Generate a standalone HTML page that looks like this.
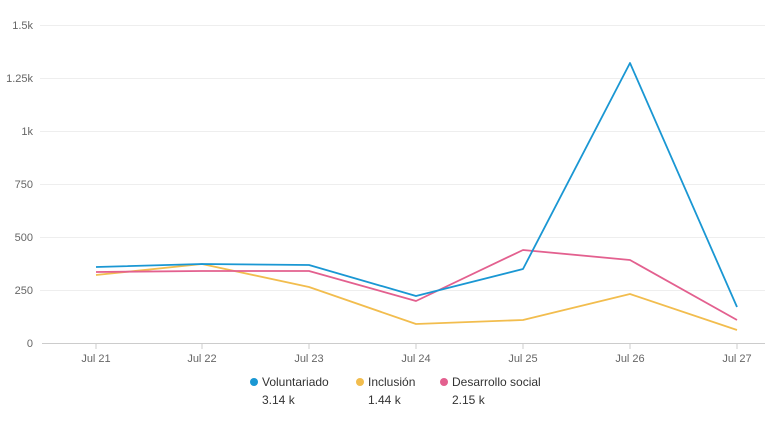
<!DOCTYPE html>
<html><head><meta charset="utf-8"><style>
body{margin:0;background:#fff;font-family:"Liberation Sans",sans-serif}
</style></head><body>
<svg width="771" height="418" xmlns="http://www.w3.org/2000/svg" font-family="Liberation Sans, sans-serif">
<g stroke="#eeeeee" stroke-width="1">
<line x1="40" x2="765" y1="25.5" y2="25.5"/>
<line x1="40" x2="765" y1="78.5" y2="78.5"/>
<line x1="40" x2="765" y1="131.5" y2="131.5"/>
<line x1="40" x2="765" y1="184.5" y2="184.5"/>
<line x1="40" x2="765" y1="237.5" y2="237.5"/>
<line x1="40" x2="765" y1="290.5" y2="290.5"/>
</g>
<line x1="42" x2="765" y1="343.5" y2="343.5" stroke="#ccc"/>
<g stroke="#ccc">
<line x1="96" x2="96" y1="343" y2="349"/><line x1="202" x2="202" y1="343" y2="349"/><line x1="309" x2="309" y1="343" y2="349"/><line x1="416" x2="416" y1="343" y2="349"/><line x1="523" x2="523" y1="343" y2="349"/><line x1="630" x2="630" y1="343" y2="349"/><line x1="737" x2="737" y1="343" y2="349"/>
</g>
<g font-size="11" fill="#666" text-anchor="end">
<text x="33" y="29">1.5k</text><text x="33" y="82">1.25k</text><text x="33" y="135">1k</text><text x="33" y="188">750</text><text x="33" y="241">500</text><text x="33" y="294">250</text><text x="33" y="347">0</text>
</g>
<g font-size="11" fill="#666" text-anchor="middle">
<text x="96" y="362">Jul 21</text><text x="202" y="362">Jul 22</text><text x="309" y="362">Jul 23</text><text x="416" y="362">Jul 24</text><text x="523" y="362">Jul 25</text><text x="630" y="362">Jul 26</text><text x="737" y="362">Jul 27</text>
</g>
<g fill="none" stroke-width="1.8" stroke-linejoin="round">
<polyline stroke="#f2bd4e" points="96,275 202,264 309,287 416,324 523,320 630,294 737,330"/>
<polyline stroke="#e3608f" points="96,272 202,271 309,271 416,301 523,250 630,260 737,320"/>
<polyline stroke="#1a97d3" points="96,267 202,264 309,265 416,296 523,269 630,63 737,307"/>
</g>
<circle cx="254" cy="382" r="4" fill="#1a97d3"/>
<circle cx="360" cy="382" r="4" fill="#f2bd4e"/>
<circle cx="444" cy="382" r="4" fill="#e3608f"/>
<g font-size="12" fill="#333">
<text x="262" y="386">Voluntariado</text><text x="368" y="386">Inclusión</text><text x="452" y="386">Desarrollo social</text>
<text x="262" y="404">3.14 k</text><text x="368" y="404">1.44 k</text><text x="452" y="404">2.15 k</text>
</g>
</svg>
</body></html>
